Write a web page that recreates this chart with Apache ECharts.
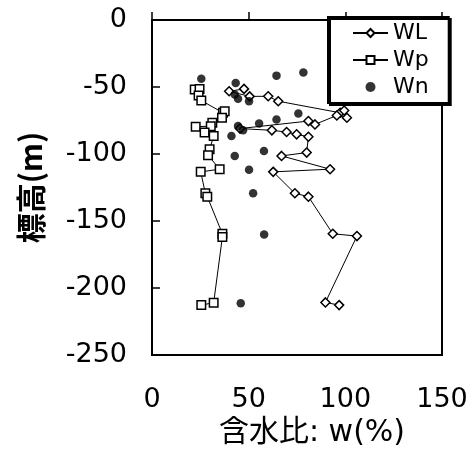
<!DOCTYPE html>
<html><head><meta charset="utf-8">
<script src="https://cdn.jsdelivr.net/npm/echarts@6/dist/echarts.min.js"></script>
<style>html,body{margin:0;padding:0;background:#fff}#c{width:473px;height:453px}</style>
</head><body><div id="c"></div>
<script>
// WL: [w(%), elevation(m)]
const wlData = [
  [47.6,-51.4],[39.9,-53.2],[50.5,-57.0],[60.1,-56.9],[65.3,-60.6],
  [97.3,-69.2],[99.4,-67.5],[100.8,-72.9],[95.6,-71.2],[84.3,-77.9],[80.9,-75.4],
  [45.5,-81.0],[62.0,-82.3],[69.6,-83.6],[74.8,-85.3],[80.9,-87.1],
  [80.0,-98.9],[67.0,-101.4],[92.1,-111.3],[62.7,-113.3],
  [73.9,-129.3],[80.9,-131.8],[93.5,-159.5],[106.0,-161.2],
  [89.7,-210.7],[96.8,-212.7]
];
const wpData = [
  [22.1,-51.9],[24.6,-51.4],[24.1,-56.4],[25.5,-60.1],[36.7,-69.2],[37.6,-68.0],
  [36.2,-72.9],[31.2,-76.6],[30.4,-79.2],[22.6,-79.6],[27.2,-84.0],[31.9,-86.6],
  [29.8,-96.4],[29.0,-100.9],[35.0,-111.3],[25.2,-113.3],[27.6,-129.3],[28.6,-131.8],
  [36.4,-159.5],[36.4,-161.9],[31.9,-210.9],[25.5,-212.7]
];
const wnData = [
  [25.5,-43.8],[43.3,-47.0],[64.4,-41.5],[78.3,-39.1],[42.8,-55.6],[44.5,-58.8],
  [50.2,-60.6],[75.7,-69.7],[64.4,-74.2],[55.4,-77.2],[44.5,-79.1],[47.1,-82.3],
  [41.1,-86.6],[57.9,-97.7],[42.8,-101.4],[50.2,-111.8],[52.3,-129.3],[58.0,-160.0],
  [45.9,-211.4]
];
const seriesNames = ['WL','Wp','Wn'];
const xName = '含水比: w(%)';
const yName = '標高(m)';

const chart = echarts.init(document.getElementById('c'), null, {renderer:'canvas'});
const lat = 'DejaVu Sans';
chart.setOption({
  animation:false,
  backgroundColor:'#fff',
  grid:{left:152, top:20, right:31, bottom:96, show:true, borderColor:'#000', borderWidth:2},
  legend:{
    data:seriesNames, orient:'vertical', left:328, top:17,
    padding:[5,20,5,24], itemGap:5, itemWidth:35, itemHeight:10,
    backgroundColor:'#fff', borderColor:'#000', borderWidth:2,
    shadowColor:'#000', shadowOffsetX:2, shadowOffsetY:2, shadowBlur:0,
    textStyle:{fontFamily:lat, fontSize:22, lineHeight:22, color:'#000'}
  },
  xAxis:{
    type:'value', min:0, max:150, interval:50,
    name:xName, nameLocation:'middle', nameGap:60,
    nameTextStyle:{fontFamily:'DejaVu Sans, "Noto Sans CJK JP"', fontSize:30, color:'#000', padding:[0,0,0,30]},
    axisLine:{show:true, lineStyle:{color:'#000', width:2}},
    axisTick:{show:true, inside:true, length:8, lineStyle:{color:'#000', width:1.5}},
    axisLabel:{fontFamily:lat, fontSize:27, color:'#000', margin:31},
    splitLine:{show:false}
  },
  yAxis:{
    type:'value', min:-250, max:0, interval:50,
    name:yName, nameLocation:'middle', nameGap:106, nameRotate:90,
    nameTextStyle:{fontFamily:'"Noto Sans CJK JP"', fontSize:30, fontWeight:'bold', color:'#000'},
    axisLine:{show:true, lineStyle:{color:'#000', width:2}},
    axisTick:{show:true, inside:true, length:8, lineStyle:{color:'#000', width:1.5}},
    axisLabel:{fontFamily:lat, fontSize:27, color:'#000', margin:25},
    splitLine:{show:false}
  },
  series:[
    {name:'WL', type:'line', data:wlData, symbol:'diamond', symbolSize:9,
     lineStyle:{color:'#000', width:1}, itemStyle:{color:'#fff', borderColor:'#000', borderWidth:1.5}, z:3},
    {name:'Wp', type:'line', data:wpData, symbol:'rect', symbolSize:8.5,
     lineStyle:{color:'#000', width:1}, itemStyle:{color:'#fff', borderColor:'#000', borderWidth:1.5}, z:3},
    {name:'Wn', type:'scatter', data:wnData, symbol:'circle', symbolSize:8.5,
     itemStyle:{color:'#000'}, z:4}
  ]
});
</script></body></html>
